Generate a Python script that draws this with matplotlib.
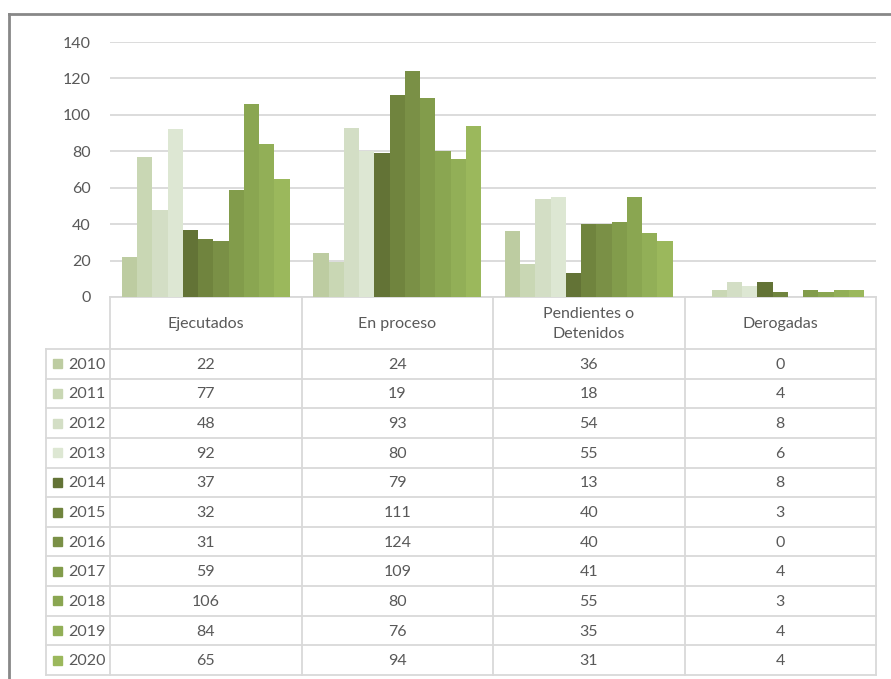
import matplotlib.pyplot as plt
import numpy as np

categorias = ["Ejecutados", "En proceso", "Pendientes o\nDetenidos", "Derogadas"]
anios = ["2010", "2011", "2012", "2013", "2014", "2015", "2016", "2017", "2018", "2019", "2020"]
valores = [
    [22, 24, 36, 0],
    [77, 19, 18, 4],
    [48, 93, 54, 8],
    [92, 80, 55, 6],
    [37, 79, 13, 8],
    [32, 111, 40, 3],
    [31, 124, 40, 0],
    [59, 109, 41, 4],
    [106, 80, 55, 3],
    [84, 76, 35, 4],
    [65, 94, 31, 4],
]
colores = ["#bdcca1", "#c9d7b4", "#d3dec5", "#dde7d3", "#637336", "#70843e",
           "#7a9046", "#829c4b", "#8aa651", "#92af57", "#9bb85c"]

W, H = 891, 679
plt.rcParams['font.family'] = ['Lato', 'DejaVu Sans']
txt = "#595959"
linea = "#d9d9d9"
fs = 11.5

fig = plt.figure(figsize=(W / 100, H / 100), dpi=100)

# overlay in pixel coordinates for border and data table
ov = fig.add_axes([0, 0, 1, 1])
ov.set_xlim(0, W)
ov.set_ylim(H, 0)
ov.axis("off")

# chart area (bars)
x0, x1 = 110, 876
y0, y1 = 297, 42
ax = fig.add_axes([x0 / W, 1 - y0 / H, (x1 - x0) / W, (y0 - y1) / H])
n = len(anios)
ancho = 0.877 / n
xs = np.arange(len(categorias))
for i, (a, v, c) in enumerate(zip(anios, valores, colores)):
    ax.bar(xs - 0.877 / 2 + ancho * (i + 0.5), v, width=ancho, color=c, zorder=3)
ax.set_xlim(-0.5, len(categorias) - 0.5)
ax.set_ylim(0, 140)
ax.set_yticks(range(0, 141, 20))
ax.yaxis.grid(True, color=linea, lw=1.3, zorder=0)
ax.set_xticks([])
for s in ax.spines.values():
    s.set_visible(False)
ax.tick_params(axis="y", length=0, pad=14, labelsize=fs, labelcolor=txt)
ax.patch.set_alpha(0)

# outer border (top and left only visible)
ov.plot([8.5, W + 5], [13.5, 13.5], color="#888888", lw=2, clip_on=False)
ov.plot([8.5, 8.5], [13.5, H + 5], color="#888888", lw=2, clip_on=False)

# data table
cols = [110, 301.5, 493, 684.5, 876]
top = 297
hdr = 349
bot = 675
fila = (bot - hdr) / n
lk = dict(color=linea, lw=1.3, zorder=1)
ov.plot([cols[0], cols[-1]], [top, top], **lk)
for cx in cols:
    ov.plot([cx, cx], [top, bot], **lk)
ov.plot([46, 46], [hdr, bot], **lk)
for r in range(n + 1):
    yy = hdr + r * fila
    ov.plot([46, cols[-1]], [yy, yy], **lk)

for j, cat in enumerate(categorias):
    cx = (cols[j] + cols[j + 1]) / 2
    ov.text(cx, (top + hdr) / 2 + 1, cat, ha="center", va="center", fontsize=fs,
            color=txt, linespacing=1.5)

for i, (a, v, c) in enumerate(zip(anios, valores, colores)):
    yy = hdr + (i + 0.5) * fila
    ov.add_patch(plt.Rectangle((53, yy - 4.5), 9, 9, color=c))
    ov.text(68, yy + 1, a, ha="left", va="center", fontsize=fs, color=txt)
    for j in range(len(categorias)):
        cx = (cols[j] + cols[j + 1]) / 2
        ov.text(cx, yy + 1, str(v[j]), ha="center", va="center", fontsize=fs, color=txt)

fig.savefig("out.png", dpi=100)
